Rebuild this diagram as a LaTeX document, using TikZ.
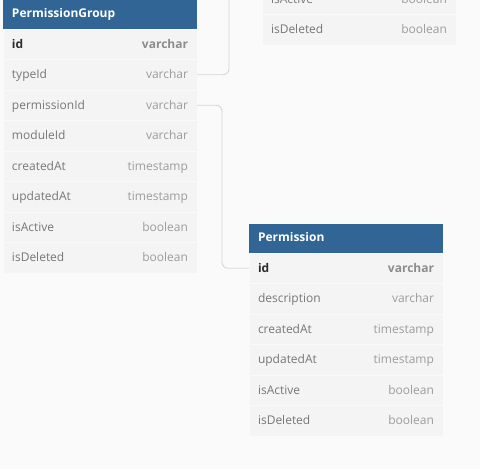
\documentclass[tikz,border=0pt]{standalone}
\usepackage{fontspec}
\setmainfont{Open Sans}
\usetikzlibrary{positioning}

\definecolor{bggrey}{HTML}{FAFAFA}
\definecolor{rowgrey}{HTML}{F4F4F4}
\definecolor{headblue}{HTML}{316595}
\definecolor{fieldgrey}{HTML}{777777}
\definecolor{typegrey}{HTML}{9C9C9C}
\definecolor{keydark}{HTML}{2B2B2B}
\definecolor{keytype}{HTML}{8C8C8C}
\definecolor{linkgrey}{HTML}{D6D6D6}

\newcommand{\field}[2]{\makebox[176pt]{\textcolor{fieldgrey}{#1}\hfill\textcolor{typegrey}{#2}}}
\newcommand{\keyfield}[2]{\makebox[176pt]{\textcolor{keydark}{\bfseries #1}\hfill\textcolor{keytype}{\bfseries #2}}}
\newcommand{\headtitle}[1]{\makebox[176pt][l]{#1}}

\begin{document}
\begin{tikzpicture}[x=1pt, y=-1pt, font=\fontsize{12}{14}\selectfont]
% Table styles
\tikzset{
    tablehead/.style={rectangle, fill=headblue, text=white, font=\fontsize{12}{14}\selectfont\bfseries,
        minimum width=194pt, minimum height=29pt, inner sep=0pt, outer sep=0pt,
        text height=9pt, text depth=3pt, anchor=north west},
    tablerow/.style={rectangle, fill=rowgrey, draw=bggrey, line width=0.6pt,
        minimum width=194pt, minimum height=30.5pt, inner sep=0pt, outer sep=0pt,
        text height=10pt, text depth=2pt},
    link/.style={draw=linkgrey, line width=0.9pt, rounded corners=6pt}
}

% Canvas
\fill[bggrey] (0,0) rectangle (480,469);
\useasboundingbox (0,0) rectangle (480,469);
\clip (0,0) rectangle (480,469);

% Table PermissionGroup
\node[tablehead] (pg-head) at (3,0) {\headtitle{PermissionGroup}};
\node[tablerow, below=0pt of pg-head] (pg-id) {\keyfield{id}{varchar}};
\node[tablerow, below=0pt of pg-id] (pg-typeId) {\field{typeId}{varchar}};
\node[tablerow, below=0pt of pg-typeId] (pg-permissionId) {\field{permissionId}{varchar}};
\node[tablerow, below=0pt of pg-permissionId] (pg-moduleId) {\field{moduleId}{varchar}};
\node[tablerow, below=0pt of pg-moduleId] (pg-createdAt) {\field{createdAt}{timestamp}};
\node[tablerow, below=0pt of pg-createdAt] (pg-updatedAt) {\field{updatedAt}{timestamp}};
\node[tablerow, below=0pt of pg-updatedAt] (pg-isActive) {\field{isActive}{boolean}};
\node[tablerow, below=0pt of pg-isActive] (pg-isDeleted) {\field{isDeleted}{boolean}};

% Table Permission
\node[tablehead] (p-head) at (249,224) {\headtitle{Permission}};
\node[tablerow, below=0pt of p-head] (p-id) {\keyfield{id}{varchar}};
\node[tablerow, below=0pt of p-id] (p-description) {\field{description}{varchar}};
\node[tablerow, below=0pt of p-description] (p-createdAt) {\field{createdAt}{timestamp}};
\node[tablerow, below=0pt of p-createdAt] (p-updatedAt) {\field{updatedAt}{timestamp}};
\node[tablerow, below=0pt of p-updatedAt] (p-isActive) {\field{isActive}{boolean}};
\node[tablerow, below=0pt of p-isActive] (p-isDeleted) {\field{isDeleted}{boolean}};

% Table above (cut off)
\node[tablerow, anchor=north west] (tr-isDeleted) at (262,14.5) {\field{isDeleted}{boolean}};
\node[tablerow, above=0pt of tr-isDeleted] (tr-isActive) {\field{isActive}{boolean}};

% Connections
\coordinate (tr-link) at (229,-20);
\draw[link] (pg-typeId.east) -| (tr-link);
\draw[link] (pg-permissionId.east) -- ++(25,0) |- (p-id.west);
\end{tikzpicture}
\end{document}
